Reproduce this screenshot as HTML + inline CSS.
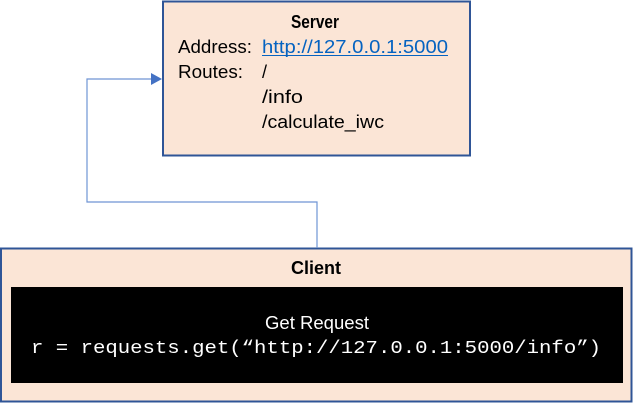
<!DOCTYPE html>
<html><head><style>html,body{margin:0;padding:0;background:#fff}</style></head>
<body>
<svg width="633" height="403" viewBox="0 0 633 403" xmlns="http://www.w3.org/2000/svg" font-family="Liberation Sans, sans-serif">
<rect x="163" y="1.5" width="307" height="154" fill="#fbe5d6" stroke="#2f5597" stroke-width="2"/>
<rect x="1" y="248.5" width="630.5" height="153" fill="#fbe5d6" stroke="#2f5597" stroke-width="2"/>
<rect x="11" y="287" width="612" height="96" fill="#000"/>
<polyline points="317,248 317,202 87,202 87,79 152,79" fill="none" stroke="#6f95d4" stroke-width="1.2"/>
<polygon points="151,73 162,79 151,85" fill="#4472c4"/>
<text x="315" y="28" text-anchor="middle" font-weight="bold" font-size="18" textLength="48" lengthAdjust="spacingAndGlyphs">Server</text>
<text x="178" y="53" font-size="18" textLength="74" lengthAdjust="spacingAndGlyphs">Address:</text>
<text x="262" y="53" font-size="18" fill="#0563c1" textLength="186" lengthAdjust="spacingAndGlyphs">http://127.0.0.1:5000</text>
<line x1="262" y1="55.5" x2="448" y2="55.5" stroke="#0563c1" stroke-width="1"/>
<text x="178" y="78" font-size="18" textLength="65" lengthAdjust="spacingAndGlyphs">Routes:</text>
<text x="262" y="78" font-size="18">/</text>
<text x="262" y="103" font-size="18" textLength="41" lengthAdjust="spacingAndGlyphs">/info</text>
<text x="262" y="128" font-size="18" textLength="122" lengthAdjust="spacingAndGlyphs">/calculate_iwc</text>
<text x="316" y="274" text-anchor="middle" font-weight="bold" font-size="18" textLength="50" lengthAdjust="spacingAndGlyphs">Client</text>
<text x="317" y="329" text-anchor="middle" font-size="18" fill="#fff" textLength="104" lengthAdjust="spacingAndGlyphs">Get Request</text>
<text x="31" y="353" font-family="Liberation Mono, monospace" font-size="18" fill="#fff" textLength="570" lengthAdjust="spacingAndGlyphs">r = requests.get(“http://127.0.0.1:5000/info”)</text>
</svg>
</body></html>
